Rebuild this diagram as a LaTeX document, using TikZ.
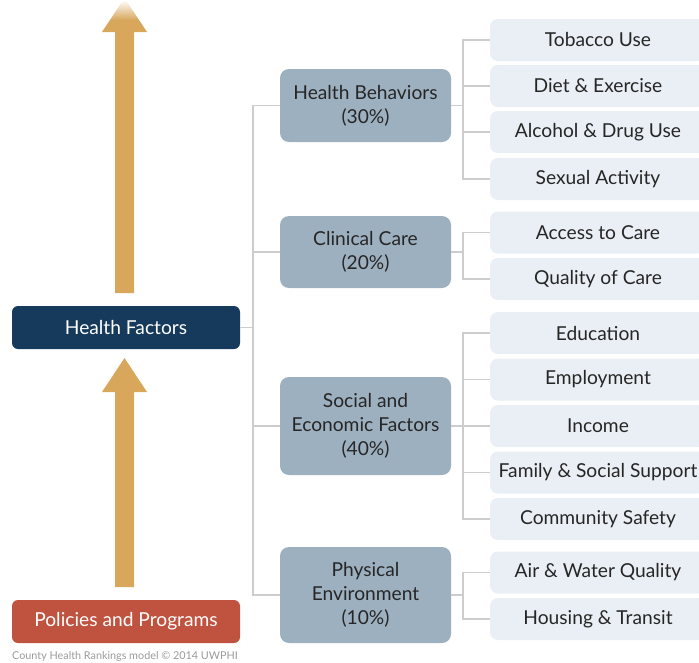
\documentclass[tikz,border=0pt]{standalone}
\usepackage{fontspec}
\setmainfont{Lato}
\usetikzlibrary{fadings}
\definecolor{arrowc}{HTML}{D8A75C}
\definecolor{hfc}{HTML}{163A5C}
\definecolor{polc}{HTML}{C0533F}
\definecolor{midc}{HTML}{9DB0C0}
\definecolor{leafc}{HTML}{E9EFF4}
\definecolor{linec}{HTML}{CDCDCD}
\definecolor{textc}{HTML}{262626}
\definecolor{notec}{HTML}{9A9A9A}
\begin{document}
\begin{tikzpicture}[x=1pt,y=-1pt,
  basebox/.style={rectangle, inner sep=0pt, align=center, text=textc,
    font=\fontsize{19.2}{24}\selectfont},
  topbox/.style={basebox, rounded corners=6pt, minimum width=228pt, minimum height=43pt, text=white},
  factor/.style={basebox, rounded corners=9pt, fill=midc, minimum width=171pt},
  leaf/.style={basebox, rounded corners=8pt, fill=leafc, minimum width=216pt, minimum height=42pt},
  conn/.style={draw=linec, line width=1.8pt}]
\useasboundingbox (0,0) rectangle (699,662);
\clip (0,0) rectangle (699,662);

% left column
\node[topbox, fill=hfc] (hf) at (126,327.5) {Health Factors};
\node[topbox, fill=polc] (pol) at (126,621.5) {Policies and Programs};
\node[anchor=west, inner sep=0pt, text=notec, font=\fontsize{10.8}{12}\selectfont] (note) at (12,656)
  {County Health Rankings model \textcopyright{} 2014 UWPHI};

% upward arrows
\fill[arrowc] (115,293) -- (115,32) -- (102,32) -- (124.5,-2) -- (147,32) -- (134,32) -- (134,293) -- cycle;
\fill[white, path fading=south] (90,0) rectangle (160,20);
\fill[arrowc] (115,587) -- (115,392) -- (102,392) -- (124.5,358) -- (147,392) -- (134,392) -- (134,587) -- cycle;

% factor groups
\node[factor, minimum height=73pt] (hb) at (365.5,105.5) {Health Behaviors\\(30\%)};
\node[factor, minimum height=72pt] (cc) at (365.5,252) {Clinical Care\\(20\%)};
\node[factor, minimum height=98pt] (se) at (365.5,426) {Social and\\Economic Factors\\(40\%)};
\node[factor, minimum height=96pt] (pe) at (365.5,595) {Physical\\Environment\\(10\%)};

% measures
\node[leaf] (t1) at (598,40) {Tobacco Use};
\node[leaf] (t2) at (598,86) {Diet \& Exercise};
\node[leaf] (t3) at (598,132) {Alcohol \& Drug Use};
\node[leaf] (t4) at (598,179) {Sexual Activity};
\node[leaf] (c1) at (598,232.5) {Access to Care};
\node[leaf] (c2) at (598,279) {Quality of Care};
\node[leaf] (s1) at (598,333) {Education};
\node[leaf] (s2) at (598,379.5) {Employment};
\node[leaf] (s3) at (598,426) {Income};
\node[leaf] (s4) at (598,472.5) {Family \& Social Support};
\node[leaf] (s5) at (598,519) {Community Safety};
\node[leaf] (p1) at (598,572.5) {Air \& Water Quality};
\node[leaf] (p2) at (598,619) {Housing \& Transit};

% trunk from Health Factors to the four groups
\coordinate (trunk) at (253,0);
\draw[conn] (hb.west) -| (trunk |- pe.west) -- (pe.west);
\draw[conn] (cc.west) -- (cc.west -| trunk);
\draw[conn] (se.west) -- (se.west -| trunk);
\draw[conn] (hf.east) -- (hf.east -| trunk);

% branches from each group to its measures
\coordinate (fork) at (463,0);
\draw[conn] (t1.west) -| (t4.west -| fork) -- (t4.west);
\draw[conn] (t2.west) -- (t2.west -| fork);
\draw[conn] (t3.west) -- (t3.west -| fork);
\draw[conn] (hb.east) -- (hb.east -| fork);

\draw[conn] (c1.west) -| (c2.west -| fork) -- (c2.west);
\draw[conn] (cc.east) -- (cc.east -| fork);

\draw[conn] (s1.west) -| (s5.west -| fork) -- (s5.west);
\draw[conn] (s2.west) -- (s2.west -| fork);
\draw[conn] (s3.west) -- (s3.west -| fork);
\draw[conn] (s4.west) -- (s4.west -| fork);
\draw[conn] (se.east) -- (se.east -| fork);

\draw[conn] (p1.west) -| (p2.west -| fork) -- (p2.west);
\draw[conn] (pe.east) -- (pe.east -| fork);
\end{tikzpicture}
\end{document}
